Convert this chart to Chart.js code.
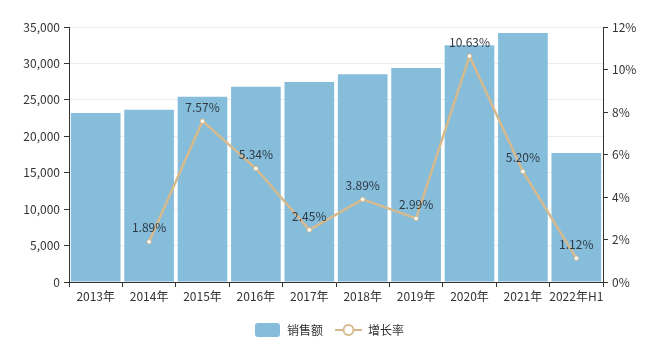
<!DOCTYPE html>
<html>
<head>
<meta charset="utf-8">
<script src="https://cdn.jsdelivr.net/npm/chart.js@4/dist/chart.umd.min.js"></script>
<style>
  html, body { margin: 0; padding: 0; background: #fff; }
  #wrap { width: 658px; height: 360px; }
</style>
</head>
<body>
<div id="wrap"><canvas id="salesChart" width="658" height="360"></canvas></div>
<script>
const years = ['2013年', '2014年', '2015年', '2016年', '2017年', '2018年', '2019年', '2020年', '2021年', '2022年H1'];
const sales = [23200, 23640, 25430, 26790, 27440, 28510, 29370, 32490, 34180, 17700];
const growth = [null, 1.89, 7.57, 5.34, 2.45, 3.89, 2.99, 10.63, 5.20, 1.12];

const barColor = '#85bddb';
const lineColor = '#d6ba8e';
const textFont = '"Noto Sans CJK SC", "Noto Sans", sans-serif';

// legend symbols
function makeBoxIcon() {
    const c = document.createElement('canvas');
    c.width = 25; c.height = 14;
    const g = c.getContext('2d');
    g.fillStyle = barColor;
    g.beginPath();
    g.roundRect(0, 0, 25, 14, 3);
    g.fill();
    return c;
}
function makeLineIcon() {
    const c = document.createElement('canvas');
    c.width = 27; c.height = 14;
    const g = c.getContext('2d');
    g.strokeStyle = lineColor;
    g.lineWidth = 2;
    g.beginPath();
    g.moveTo(0, 7); g.lineTo(27, 7);
    g.stroke();
    g.beginPath();
    g.arc(13.5, 7, 5, 0, Math.PI * 2);
    g.fillStyle = '#fff';
    g.fill();
    g.stroke();
    return c;
}

// draw the percent labels above the line points
const pointLabels = {
    id: 'pointLabels',
    afterDatasetsDraw(chart) {
        const ctx = chart.ctx;
        const meta = chart.getDatasetMeta(1);
        ctx.save();
        ctx.font = '12px ' + textFont;
        ctx.fillStyle = '#2f3a45';
        ctx.textAlign = 'center';
        ctx.textBaseline = 'middle';
        meta.data.forEach((pt, i) => {
            if (growth[i] == null) return;
            ctx.fillText(growth[i].toFixed(2) + '%', pt.x, pt.y - 14);
        });
        ctx.restore();
    }
};

const ctx = document.getElementById('salesChart').getContext('2d');
const chart = new Chart(ctx, {
    data: {
        labels: years,
        datasets: [
            {
                type: 'bar',
                label: '销售额',
                data: sales,
                backgroundColor: barColor,
                yAxisID: 'y',
                barPercentage: 0.93,
                categoryPercentage: 1.0,
                order: 2
            },
            {
                type: 'line',
                label: '增长率',
                data: growth,
                borderColor: lineColor,
                borderWidth: 2.5,
                pointRadius: 2.2,
                pointBackgroundColor: '#fff',
                pointBorderColor: lineColor,
                pointBorderWidth: 1,
                yAxisID: 'y1',
                spanGaps: false,
                order: 1
            }
        ]
    },
    options: {
        responsive: false,
        animation: false,
        layout: { padding: { top: 27, right: 0, left: 0, bottom: 14 } },
        plugins: {
            tooltip: { enabled: false },
            legend: {
                position: 'bottom',
                labels: {
                    usePointStyle: true,
                    pointStyleWidth: 27,
                    boxHeight: 14,
                    padding: 12,
                    color: '#333',
                    font: { size: 12, family: textFont },
                    generateLabels: (ch) => [
                        { text: '销售额', pointStyle: makeBoxIcon(), datasetIndex: 0, fontColor: '#333', lineWidth: 0 },
                        { text: '增长率', pointStyle: makeLineIcon(), datasetIndex: 1, fontColor: '#333', lineWidth: 0 }
                    ]
                }
            }
        },
        scales: {
            x: {
                offset: true,
                grid: {
                    offset: true,
                    drawOnChartArea: false,
                    color: '#333',
                    tickLength: 5
                },
                border: { color: '#333', width: 1 },
                ticks: { color: '#333', font: { size: 12, family: textFont }, padding: 2, maxRotation: 0, autoSkip: false },
                afterFit: s => { s.height = 30; }
            },
            y: {
                position: 'left',
                min: 0,
                max: 35000,
                ticks: {
                    stepSize: 5000,
                    color: '#333',
                    font: { size: 12, family: textFont },
                    padding: 4,
                    callback: v => v.toLocaleString('en-US')
                },
                grid: { color: '#ececec', tickColor: '#333', tickLength: 5 },
                border: { color: '#333', width: 1 },
                afterFit: s => { s.width = 69; }
            },
            y1: {
                position: 'right',
                min: 0,
                max: 12,
                ticks: {
                    stepSize: 2,
                    color: '#333',
                    font: { size: 12, family: textFont },
                    padding: 4,
                    callback: v => v + '%'
                },
                grid: { drawOnChartArea: false, color: '#333', tickLength: 5 },
                border: { color: '#333', width: 1 },
                afterFit: s => { s.width = 55; }
            }
        }
    },
    plugins: [pointLabels]
});
</script>
</body>
</html>
